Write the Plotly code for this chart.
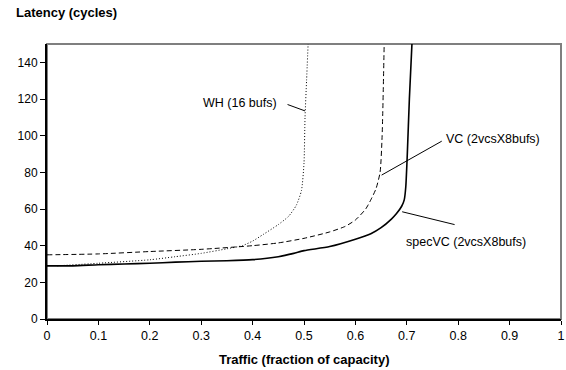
import plotly.graph_objects as go

# specVC (2vcsX8bufs) - solid
spec_x = [0, 0.05, 0.1, 0.15, 0.2, 0.25, 0.3, 0.35, 0.4, 0.45, 0.48, 0.5, 0.55, 0.6, 0.63, 0.65, 0.67, 0.68, 0.69, 0.695, 0.698, 0.701, 0.705, 0.71]
spec_y = [29, 29.0, 29.6, 30, 30.4, 31, 31.5, 31.8, 32.4, 34, 35.8, 37.3, 39.5, 43.5, 46.5, 49.8, 54.5, 57.5, 61.5, 65, 72, 90, 120, 150]

# VC (2vcsX8bufs) - dashed
vc_x = [0, 0.1, 0.2, 0.3, 0.4, 0.45, 0.5, 0.55, 0.58, 0.6, 0.62, 0.63, 0.64, 0.648, 0.652, 0.656]
vc_y = [35, 35.5, 36.8, 38, 40, 41.5, 44, 47.5, 50.5, 54, 60, 65, 71, 80, 100, 150]

# WH (16 bufs) - dotted
wh_x = [0.02, 0.1, 0.2, 0.25, 0.3, 0.35, 0.38, 0.4, 0.42, 0.45, 0.47, 0.485, 0.495, 0.5, 0.502, 0.505, 0.508]
wh_y = [29, 30.4, 32.3, 34.0, 35.8, 38.3, 40, 42.5, 46, 51.5, 56, 62, 70, 85, 110, 130, 150]

x_ticks = [0, 0.1, 0.2, 0.3, 0.4, 0.5, 0.6, 0.7, 0.8, 0.9, 1]
x_ticktext = ["0", "0.1", "0.2", "0.3", "0.4", "0.5", "0.6", "0.7", "0.8", "0.9", "1"]
y_ticks = [0, 20, 40, 60, 80, 100, 120, 140]

FONT = "Liberation Sans, Arial, sans-serif"
PW, PH = 518, 275  # plot area size in px

fig = go.Figure()
fig.add_trace(go.Scatter(x=wh_x, y=wh_y, mode="lines", line=dict(color="black", width=1, dash="1px,2px", shape="spline", smoothing=0.6), showlegend=False, hoverinfo="skip"))
fig.add_trace(go.Scatter(x=vc_x, y=vc_y, mode="lines", line=dict(color="black", width=1, dash="5px,3px", shape="spline", smoothing=0.6), showlegend=False, hoverinfo="skip"))
fig.add_trace(go.Scatter(x=spec_x, y=spec_y, mode="lines", line=dict(color="black", width=1.6, shape="spline", smoothing=0.6), showlegend=False, hoverinfo="skip"))

# frame (top/right gray)
fig.add_shape(type="rect", xref="paper", yref="paper", x0=0, y0=0, x1=1, y1=1,
              line=dict(color="#7f7f7f", width=2), layer="below")

# leader lines and labels
labels = [
    ("WH (16 bufs)", 0.452, 118, "right", (0.468, 117), (0.502, 113.5)),
    ("VC (2vcsX8bufs)", 0.772, 98, "left", (0.768, 97), (0.651, 78.5)),
    ("specVC (2vcsX8bufs)", 0.695, 42, "left", (0.793, 51.5), (0.691, 58.5)),
]
for text, tx, ty, anchor, (sx, sy), (ex, ey) in labels:
    fig.add_annotation(x=tx, y=ty, xref="x", yref="y", text=text, showarrow=False,
                       xanchor=anchor, yanchor="middle",
                       font=dict(family=FONT, size=12.5, color="black"))
    fig.add_shape(type="line", xref="x", yref="y", x0=sx, y0=sy, x1=ex, y1=ey,
                  line=dict(color="black", width=1))

fig.add_annotation(x=(14 - 47) / PW, y=1 + (44 - 12.7) / PH, xref="paper", yref="paper",
                   text="<b>Latency (cycles)</b>",
                   showarrow=False, xanchor="left", yanchor="middle",
                   font=dict(family=FONT, size=13, color="black"))
fig.add_annotation(x=0.5, y=-(359.7 - 319) / PH, xref="paper", yref="paper",
                   text="<b>Traffic (fraction of capacity)</b>", showarrow=False,
                   xanchor="center", yanchor="middle",
                   font=dict(family=FONT, size=13, color="black"))

fig.update_layout(
    width=566, height=370,
    margin=dict(l=47, r=1, t=44, b=51),
    paper_bgcolor="white", plot_bgcolor="white",
    font=dict(family=FONT, size=12, color="black"),
    hovermode=False,
)

fig.update_xaxes(range=[0, 1], tickvals=x_ticks, ticktext=x_ticktext,
                 showgrid=False, zeroline=False, showline=True, linecolor="black", linewidth=2,
                 ticks="outside", ticklen=4, tickcolor="black", tickwidth=1,
                 ticklabeloverflow="allow",
                 tickfont=dict(family=FONT, size=12.5))
fig.update_yaxes(range=[0, 150], tickvals=y_ticks,
                 showgrid=False, zeroline=False, showline=True, linecolor="black", linewidth=2,
                 ticks="outside", ticklen=5, tickcolor="black", tickwidth=1,
                 tickfont=dict(family=FONT, size=12))

# remove the browser's default 8px body margin so the figure fills the window
fig.write_html("out.html", config={"displayModeBar": False, "staticPlot": True},
               post_script="document.body.style.margin='0';document.body.style.overflow='hidden';")
